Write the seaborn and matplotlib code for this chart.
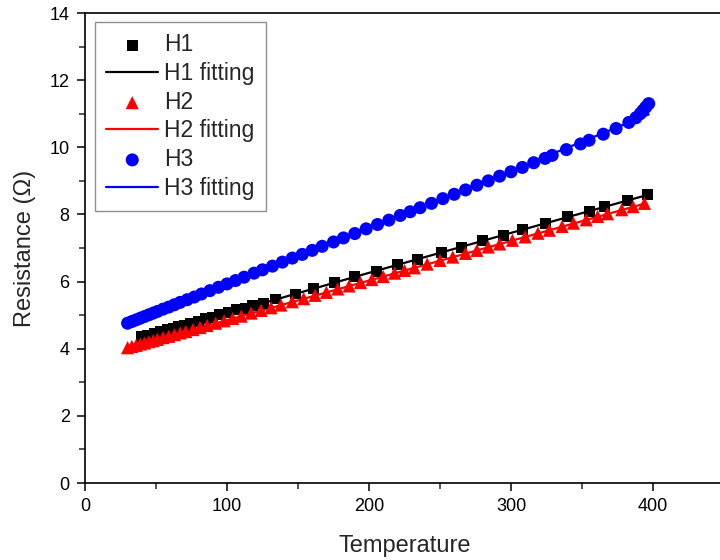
import numpy as np
import pandas as pd
import matplotlib
matplotlib.use("Agg")
import matplotlib.pyplot as plt
import seaborn as sns
from matplotlib.ticker import MultipleLocator

# ---- data ----
h1_T = [40, 44, 49, 53, 58, 62, 66, 70, 74, 80, 85, 90, 95, 101, 107, 113, 118, 126, 134,
        148, 161, 176, 190, 205, 220, 234, 251, 265, 280, 295, 308, 324, 340, 355, 366, 382, 396]
h1_R = [4.35, 4.39, 4.46, 4.51, 4.56, 4.60, 4.66, 4.70, 4.76, 4.82, 4.90, 4.94, 5.01, 5.07,
        5.16, 5.21, 5.29, 5.36, 5.48, 5.63, 5.80, 5.96, 6.15, 6.30, 6.50, 6.65, 6.87, 7.02,
        7.22, 7.37, 7.55, 7.72, 7.93, 8.09, 8.24, 8.41, 8.59]

h2_T = [30, 33, 36, 39, 42, 45, 48, 51, 55, 59, 63, 67, 71, 76, 81, 86, 92, 98, 104, 110,
        117, 124, 131, 138, 146, 154, 162, 170, 178, 186, 194, 202, 210, 218, 225, 232, 241,
        250, 259, 268, 276, 284, 292, 301, 310, 319, 327, 336, 344, 353, 361, 368, 378, 386, 394]
h2_R = [4.03, 4.07, 4.10, 4.14, 4.17, 4.21, 4.24, 4.28, 4.33, 4.37, 4.42, 4.47, 4.51, 4.57,
        4.63, 4.69, 4.76, 4.83, 4.90, 4.97, 5.06, 5.14, 5.22, 5.30, 5.40, 5.49, 5.59, 5.68,
        5.78, 5.87, 5.97, 6.06, 6.15, 6.25, 6.33, 6.41, 6.52, 6.63, 6.73, 6.84, 6.93, 7.03,
        7.12, 7.23, 7.33, 7.44, 7.53, 7.64, 7.74, 7.84, 7.94, 8.02, 8.14, 8.23, 8.33]

h3_T = [30, 33, 36, 39, 42, 45, 48, 51, 55, 59, 63, 67, 72, 77, 82, 88, 94, 100, 106, 112,
        119, 125, 132, 139, 146, 153, 160, 167, 175, 182, 190, 198, 206, 214, 222, 229, 236,
        244, 252, 260, 268, 276, 284, 292, 300, 308, 316, 324, 329, 339, 349, 355, 365, 374,
        383, 388, 391, 393, 395, 397]
h3_R = [4.76, 4.81, 4.86, 4.91, 4.96, 5.01, 5.06, 5.11, 5.18, 5.24, 5.31, 5.38, 5.46, 5.54,
        5.63, 5.73, 5.83, 5.93, 6.03, 6.13, 6.25, 6.35, 6.46, 6.58, 6.70, 6.81, 6.93, 7.05,
        7.18, 7.30, 7.43, 7.57, 7.70, 7.83, 7.97, 8.08, 8.20, 8.33, 8.47, 8.60, 8.73, 8.87,
        9.00, 9.14, 9.27, 9.40, 9.54, 9.67, 9.76, 9.93, 10.10, 10.21, 10.39, 10.56, 10.74,
        10.88, 11.00, 11.10, 11.20, 11.30]

fit1_T = [40, 100, 200, 300, 396]
fit1_R = [4.33, 5.05, 6.26, 7.45, 8.58]
fit2_T = [30, 100, 200, 300, 394]
fit2_R = [4.03, 4.85, 6.03, 7.21, 8.32]
fit3_T = [30, 100, 200, 300, 397]
fit3_R = [4.74, 5.92, 7.62, 9.30, 10.98]

sns.set_theme(style="ticks")
plt.rcParams['font.family'] = ['Liberation Sans', 'DejaVu Sans']

fig = plt.figure(figsize=(7.2, 5.6), dpi=100)
ax = fig.add_axes([85/720, 1-483/560, 639/720, 470/560])

df1 = pd.DataFrame({"T": h1_T, "R": h1_R})
df2 = pd.DataFrame({"T": h2_T, "R": h2_R})
df3 = pd.DataFrame({"T": h3_T, "R": h3_R})
f1 = pd.DataFrame({"T": fit1_T, "R": fit1_R})
f2 = pd.DataFrame({"T": fit2_T, "R": fit2_R})
f3 = pd.DataFrame({"T": fit3_T, "R": fit3_R})

sns.lineplot(data=f1, x="T", y="R", ax=ax, color="black", lw=1.6, label="H1 fitting", zorder=2)
sns.lineplot(data=f2, x="T", y="R", ax=ax, color="red", lw=1.6, label="H2 fitting", zorder=2)
sns.lineplot(data=f3, x="T", y="R", ax=ax, color="blue", lw=1.6, label="H3 fitting", zorder=2)
sns.scatterplot(data=df1, x="T", y="R", ax=ax, marker="s", s=62, color="black",
                edgecolor="none", label="H1", zorder=3)
sns.scatterplot(data=df2, x="T", y="R", ax=ax, marker="^", s=90, color="red",
                edgecolor="none", label="H2", zorder=3)
sns.scatterplot(data=df3, x="T", y="R", ax=ax, marker="o", s=88, color="blue",
                edgecolor="none", label="H3", zorder=3)

ax.set_xlim(0, 450)
ax.set_ylim(0, 14)
ax.xaxis.set_major_locator(MultipleLocator(100))
ax.xaxis.set_minor_locator(MultipleLocator(50))
ax.yaxis.set_major_locator(MultipleLocator(2))
ax.yaxis.set_minor_locator(MultipleLocator(1))
ax.tick_params(which="major", direction="out", length=6, width=1.1, labelsize=13,
               colors="black", pad=5)
ax.tick_params(which="minor", direction="out", length=4, width=1.1)
for s in ax.spines.values():
    s.set_linewidth(1.2)
    s.set_color("black")

ax.set_xlabel("Temperature", fontsize=17, labelpad=14)
ax.set_ylabel("Resistance (Ω)", fontsize=17, labelpad=10)

handles, labels = ax.get_legend_handles_labels()
order = ["H1", "H1 fitting", "H2", "H2 fitting", "H3", "H3 fitting"]
hmap = dict(zip(labels, handles))
leg = ax.legend([hmap[k] for k in order], order, loc="upper left",
                bbox_to_anchor=(10/639, 1-9/470), borderaxespad=0,
                fontsize=16.5, frameon=True, fancybox=False, edgecolor="0.45",
                handlelength=2.25, handletextpad=0.25, labelspacing=0.245,
                borderpad=0.5, scatterpoints=1)
leg.get_frame().set_linewidth(1.0)

fig.savefig("out.png", dpi=100)
